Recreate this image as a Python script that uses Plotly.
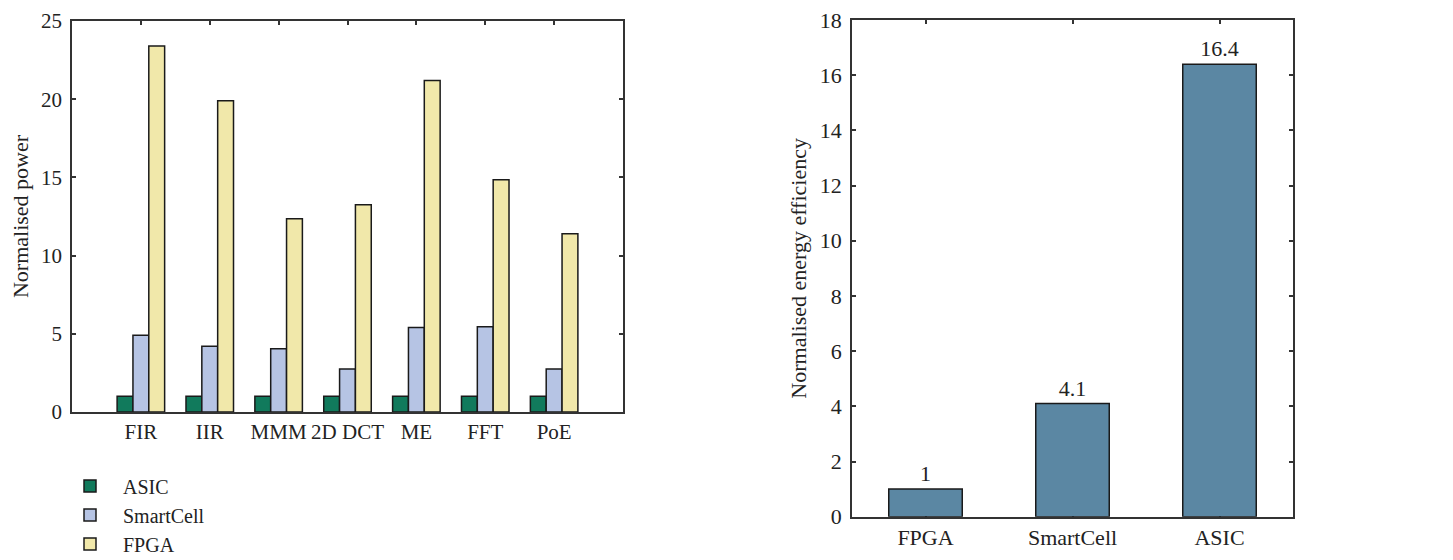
import plotly.graph_objects as go

# ---- data ----
apps = ["FIR", "IIR", "MMM", "2D DCT", "ME", "FFT", "PoE"]
asic_power = [1.0, 1.0, 1.0, 1.0, 1.0, 1.0, 1.0]
smartcell_power = [4.9, 4.2, 4.05, 2.75, 5.4, 5.45, 2.75]
fpga_power = [23.4, 19.9, 12.35, 13.25, 21.2, 14.85, 11.4]

platforms = ["FPGA", "SmartCell", "ASIC"]
energy_eff = [1, 4.1, 16.4]
energy_labels = ["1", "4.1", "16.4"]

FONT = "Liberation Serif"
FS = 22
LINE = "#333333"
OUTLINE = "#1a1a1a"
TXT = "#222222"
W, H = 1453, 560
OFF = 8  # page body margin offset


def fx(px):
    return (px - OFF) / W


def fy(py):
    return 1 - (py - OFF) / H


fig = go.Figure()

series = [("ASIC", asic_power, "#117a5c"),
          ("SmartCell", smartcell_power, "#b6c4e4"),
          ("FPGA", fpga_power, "#f1e8aa")]
for name, vals, col in series:
    fig.add_trace(go.Bar(
        x=apps, y=vals, name=name, xaxis="x", yaxis="y",
        marker=dict(color=col, line=dict(color=OUTLINE, width=1.5)),
        hoverinfo="skip",
    ))

fig.add_trace(go.Bar(
    x=platforms, y=energy_eff, xaxis="x2", yaxis="y2", width=0.5,
    marker=dict(color="#5b87a3", line=dict(color=OUTLINE, width=1.5)),
    text=energy_labels, textposition="outside", cliponaxis=False,
    textfont=dict(family=FONT, size=FS, color=TXT),
    showlegend=False, hoverinfo="skip",
))

axis_common = dict(
    showline=True, linecolor=LINE, linewidth=1.5, mirror="ticks",
    ticks="inside", ticklen=4, tickwidth=1.5, tickcolor=LINE,
    showgrid=False, zeroline=False, automargin=False,
    layer="below traces",
)

fig.update_layout(
    width=W, height=H,
    margin=dict(l=0, r=0, t=0, b=0),
    paper_bgcolor="white", plot_bgcolor="white",
    barmode="group", bargap=0.31, bargroupgap=0,
    font=dict(family=FONT, size=FS, color=TXT),
    xaxis=dict(domain=[fx(72), fx(623)], range=[-1, 7], anchor="y",
               type="category", tickangle=0,
               tickfont=dict(family=FONT, size=21, color=TXT), **axis_common),
    yaxis=dict(domain=[fy(412), fy(21)], range=[0, 25], dtick=5, anchor="x",
               ticklabelstandoff=4, ticklabeloverflow="allow",
               tickfont=dict(family=FONT, size=21, color=TXT),
               title=dict(text="Normalised power", font=dict(family=FONT, size=FS, color=TXT), standoff=18),
               **axis_common),
    xaxis2=dict(domain=[fx(852), fx(1293)], range=[-0.5, 2.5], anchor="y2",
                type="category", tickangle=0,
                tickfont=dict(family=FONT, size=FS, color=TXT), **axis_common),
    yaxis2=dict(domain=[fy(516.7), fy(20)], range=[0, 18], dtick=2, anchor="x2",
                ticklabelstandoff=4, ticklabeloverflow="allow",
                tickfont=dict(family=FONT, size=FS, color=TXT),
                title=dict(text="Normalised energy efficiency", font=dict(family=FONT, size=FS, color=TXT), standoff=7),
                **axis_common),
    legend=dict(x=fx(57), y=0.008, xanchor="left", yanchor="bottom",
                font=dict(family=FONT, size=20, color=TXT),
                traceorder="normal", itemwidth=56, bgcolor="rgba(0,0,0,0)"),
)

fig.write_html("out.html")
